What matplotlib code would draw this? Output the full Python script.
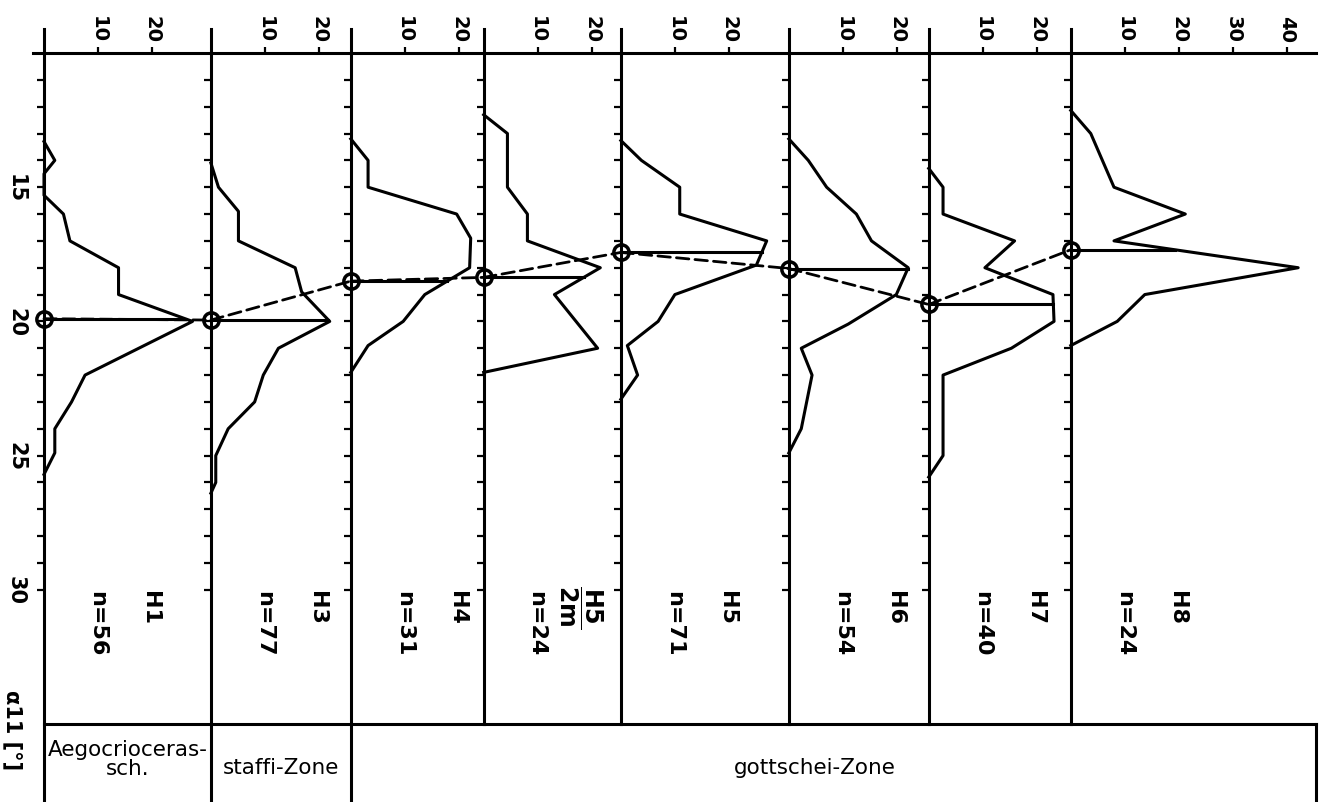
import numpy
import matplotlib.pyplot as plt
from matplotlib.patches import ConnectionPatch


# horizons, effectifs et moyennes de alpha 11
horizons	= ["H1", "H3", "H4", "H5/2m", "H5", "H6", "H7", "H8"]
effectifs	= [56, 77, 31, 24, 71, 54, 40, 24]
moyennes	= [19.9, 19.95, 18.5, 18.36, 17.43, 18.03, 19.37, 17.33]

# polygones de frequence : angle (degres) et frequence
h1_ang	= [13.3, 14.0, 14.5, 15.3, 16, 17, 18, 19, 20, 22, 23, 24, 24.9, 25.7]
h1_freq	= [0, 2.0, 0, 0, 3.6, 4.8, 13.8, 13.8, 27.5, 7.6, 5.1, 2.0, 2.0, 0]
h3_ang	= [14.1, 15, 15.9, 17, 18, 18.9, 20, 21, 22, 23, 24, 25, 26, 26.4]
h3_freq	= [0, 1.4, 5.1, 5.1, 15.6, 16.8, 22.0, 12.5, 9.7, 8.1, 3.2, 0.9, 0.9, 0]
h4_ang	= [13.2, 14, 15, 16, 16.9, 18, 19, 20, 20.9, 21.9]
h4_freq	= [0, 3.2, 3.2, 19.6, 22.2, 22.0, 13.7, 9.7, 3.2, 0]
h52_ang	= [12.3, 13, 15, 16, 17, 18, 19, 21, 21.9]
h52_freq	= [0, 4.4, 4.4, 8.1, 8.1, 21.6, 13.1, 21.1, 0]
h5_ang	= [13.26, 14, 15, 16, 17, 17.9, 19, 20, 20.9, 22, 22.9]
h5_freq	= [0, 3.8, 10.9, 10.9, 27.0, 25.1, 10.0, 6.9, 1.2, 3.1, 0]
h6_ang	= [13.2, 14, 15, 16, 17, 18, 19, 20.1, 21, 22, 24, 24.9]
h6_freq	= [0, 3.6, 7.0, 12.5, 15.3, 22.1, 19.9, 11.0, 2.3, 4.3, 2.3, 0]
h7_ang	= [14.3, 15, 16, 17, 18, 19, 20, 21, 22, 25, 25.8]
h7_freq	= [0, 2.65, 2.65, 15.9, 10.4, 23.0, 23.2, 15.3, 2.65, 2.65, 0]
h8_ang	= [12.14, 13, 15, 16, 17, 18, 19, 20, 20.9]
h8_freq	= [0, 3.7, 8.0, 21.2, 8.0, 42.1, 13.7, 8.6, 0]

angles	= [h1_ang, h3_ang, h4_ang, h52_ang, h5_ang, h6_ang, h7_ang, h8_ang]
freqs	= [h1_freq, h3_freq, h4_freq, h52_freq, h5_freq, h6_freq, h7_freq, h8_freq]

# largeur de chaque panneau en unites de frequence
largeurs = [30.9, 25.9, 24.6, 25.4, 31.1, 25.9, 26.3, 45.4]

W, H = 1326, 803
fig = plt.figure(figsize=(W / 100, H / 100), dpi=100)
gs = fig.add_gridspec(1, 8, width_ratios=largeurs, left=44 / W, right=1316 / W,
					  top=1 - 54 / H, bottom=1 - 725 / H, wspace=0)
axes = [fig.add_subplot(gs[0, i]) for i in range(8)]

lw = 2.2
bas = -(H - 725) / 671		# descente des separations dans le cartouche

for i, ax in enumerate(axes):
	ax.set_xlim(0, largeurs[i])
	ax.set_ylim(35, 10)
	ax.spines['right'].set_visible(False)
	ax.spines['left'].set_visible(False)
	ax.spines['top'].set_linewidth(lw)
	ax.spines['bottom'].set_linewidth(lw)
	# ligne de base (prolongee dans le cartouche pour H1, H3, H4)
	ymin = bas if i < 3 else 0
	ax.axvline(0, ymin=ymin, ymax=1.036, color='black', lw=lw, clip_on=False)

	# graduations en degres
	ax.set_yticks([15, 20, 25, 30])
	ax.set_yticks(numpy.arange(11, 31), minor=True)
	ax.tick_params(axis='y', which='both', direction='out', length=5, width=1.6,
				   labelsize=15, labelrotation=-90, pad=8, labelleft=(i == 0))
	for t in ax.get_yticklabels():
		t.set_va('center')
		t.set_fontweight('bold')

	# graduations en frequence
	ax.xaxis.tick_top()
	ax.set_xticks([10, 20, 30, 40] if i == 7 else [10, 20])
	ax.tick_params(axis='x', direction='out', length=4, width=1.6, labelsize=14,
				   labelrotation=-90, pad=4)
	for t in ax.get_xticklabels():
		t.set_fontweight('bold')

	# polygone de frequence
	ax.plot(freqs[i], angles[i], color='black', lw=lw, clip_on=False)
	# moyenne
	m = moyennes[i]
	ax.plot([0, numpy.interp(m, angles[i], freqs[i])], [m, m], color='black', lw=lw)
	ax.plot(0, m, 'o', ms=11, mfc='none', mec='black', mew=2.5, clip_on=False, zorder=6)

	# etiquettes
	ax.text(9.8, 30, f"n={effectifs[i]}", rotation=-90, ha='center', va='top',
			fontsize=16, fontweight='bold')
	if horizons[i] == "H5/2m":
		ax.text(18.0, 29.8, r'$\dfrac{\mathbf{H5}}{\mathbf{2m}}$', rotation=-90,
				ha='center', va='top', fontsize=17)
	else:
		ax.text(19.7, 30, horizons[i], rotation=-90, ha='center', va='top',
				fontsize=16, fontweight='bold')

axes[0].axhline(10, xmin=-0.066, xmax=0, color='black', lw=lw, clip_on=False)
axes[7].axvline(largeurs[7], ymin=bas, ymax=0, color='black', lw=lw, clip_on=False)

# liaison en tirets entre les moyennes
for i in range(7):
	con = ConnectionPatch(xyA=(0, moyennes[i]), coordsA=axes[i].transData,
						  xyB=(0, moyennes[i + 1]), coordsB=axes[i + 1].transData,
						  color='black', lw=2, linestyle=(0, (4.5, 2.2)), zorder=5)
	fig.add_artist(con)

# cartouche des zones
axes[0].text(0.5, -0.052, "Aegocrioceras-\nsch.", transform=axes[0].transAxes,
			 ha='center', va='center', fontsize=15.5, linespacing=0.95)
axes[1].text(0.5, -0.064, "staffi-Zone", transform=axes[1].transAxes,
			 ha='center', va='center', fontsize=15.5)
fig.text(815 / W, 1 - 768 / H, "gottschei-Zone", ha='center', va='center', fontsize=15.5)

fig.text(13 / W, 1 - 730 / H, "α11 [°]", rotation=-90, ha='center', va='center',
		 fontsize=15, fontweight='bold')

plt.savefig('out.png', dpi=100)
